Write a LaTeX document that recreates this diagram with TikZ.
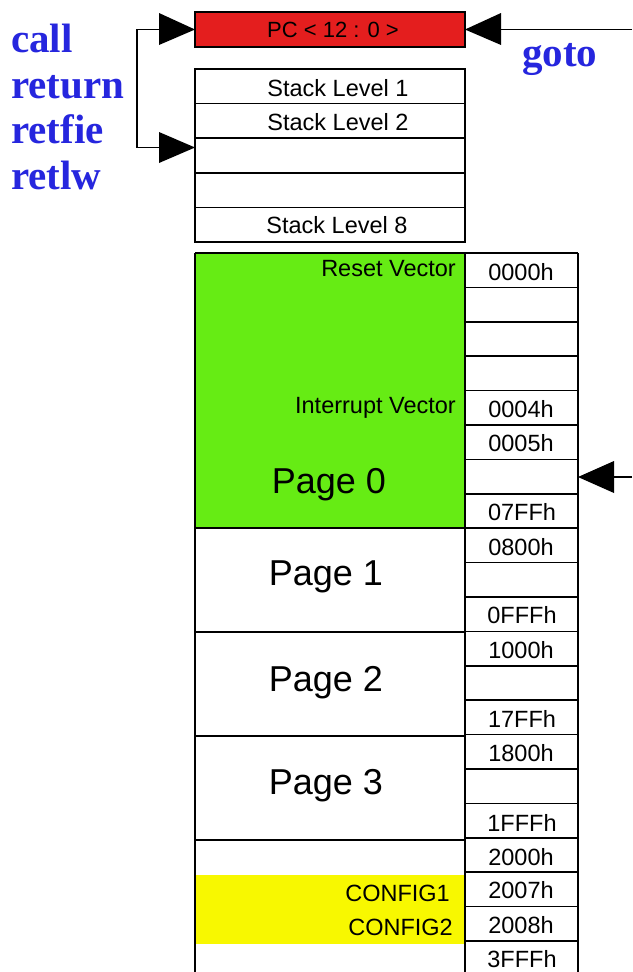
\documentclass[tikz,border=0pt]{standalone}
\usepackage{fontspec}
\setmainfont{Liberation Sans}
\newfontfamily\opfont{Liberation Serif}
\definecolor{pcred}{RGB}{228,30,30}
\definecolor{pagegreen}{RGB}{102,236,20}
\definecolor{cfgyellow}{RGB}{248,248,0}
\definecolor{opblue}{RGB}{38,38,222}
\tikzset{
  cell/.style={draw=black, line width=1.7pt},
  op/.style={text=opblue, font=\opfont\bfseries\fontsize{41}{41}\selectfont, anchor=base west, inner sep=0pt},
  lbl/.style={font=\fontsize{23.5}{23.5}\selectfont, inner sep=0pt},
  pclbl/.style={font=\fontsize{22}{22}\selectfont, inner sep=0pt},
  addr/.style={font=\fontsize{23.5}{23.5}\selectfont, inner sep=0pt},
  pagelbl/.style={font=\fontsize{36}{36}\selectfont, inner sep=0pt},
  wire/.style={draw=black, line width=1.7pt},
  head/.style={fill=black, draw=none}
}
\begin{document}
\begin{tikzpicture}[x=1pt, y=-1pt]
\useasboundingbox (0,0) rectangle (632,972);
\fill[white] (0,0) rectangle (632,972);

% program counter
\path[cell, fill=pcred] (195,12) rectangle (465,47);
\node[pclbl] (pc) at (333,30) {PC < 12 : 0 >};
\coordinate (pcW) at (195,29.5);
\coordinate (pcE) at (465,29.5);

% hardware stack
\foreach \y in {69,103.6,138.2,172.8,207.4}{
  \path[cell] (195,\y) rectangle (465,\y+34.6);
}
\node[lbl] (s1) at (338,88) {Stack Level 1};
\node[lbl] (s2) at (338,122) {Stack Level 2};
\node[lbl] (s8) at (337,225) {Stack Level 8};
\coordinate (stk3) at (195,147.5);

% opcode labels
\node[op] (call) at (11,52) {call};
\node[op] (ret) at (11,98) {return};
\node[op] (retfie) at (11,143.5) {retfie};
\node[op] (retlw) at (11,189.5) {retlw};
\node[op] (goto) at (522,66) {goto};

% call/return path
\coordinate (lt) at (137,29.5);
\coordinate (lb) at (137,147.5);
\draw[wire] (160,29.5) -- (lt) -- (lb) -- (160,147.5);
\fill[head] (pcW) -- (159,13) -- (159,45) -- cycle;
\fill[head] (stk3) -- (159,132) -- (159,163) -- cycle;

% goto path
\coordinate (gr) at (632,29.5);
\draw[wire] (gr) -- (500,29.5);
\fill[head] (pcE) -- (501,13) -- (501,45) -- cycle;

% program memory pages
\fill[pagegreen] (195,253) rectangle (465,528);
\fill[cfgyellow] (195,874.5) rectangle (465,943.5);
\draw[wire] (195,253) -- (465,253);
\foreach \y in {528,632,736,840}{ \draw[wire] (195,\y) -- (465,\y); }
\draw[wire] (195,253) -- (195,973);
\draw[wire] (465,253) -- (465,973);

% address column
\foreach \i in {0,...,20}{
  \draw[wire] (465,253+34.4*\i) -- (578,253+34.4*\i);
}
\draw[wire] (578,253) -- (578,973);

\node[addr] (a0) at (521,272) {0000h};
\node[addr] (a4) at (521,409) {0004h};
\node[addr] (a5) at (521,443.5) {0005h};
\node[addr] (a7) at (522,512.5) {07FFh};
\node[addr] (a8) at (521,547) {0800h};
\node[addr] (a9) at (522,615.5) {0FFFh};
\node[addr] (a10) at (521,650) {1000h};
\node[addr] (a11) at (522,719) {17FFh};
\node[addr] (a12) at (521,753.5) {1800h};
\node[addr] (a13) at (522,822.5) {1FFFh};
\node[addr] (a14) at (521,857) {2000h};
\node[addr] (a15) at (521,890.5) {2007h};
\node[addr] (a16) at (521,925.5) {2008h};
\node[addr] (a17) at (522,959) {3FFFh};

\node[lbl, anchor=east] (rv) at (456,269) {Reset Vector};
\node[lbl, anchor=east] (iv) at (456,408) {Interrupt Vector};
\node[lbl, anchor=east] (c1) at (450,893) {CONFIG1};
\node[lbl, anchor=east] (c2) at (453,927) {CONFIG2};

\node[pagelbl] (p0) at (329,485) {Page 0};
\node[pagelbl] (p1) at (326,577) {Page 1};
\node[pagelbl] (p2) at (326,683) {Page 2};
\node[pagelbl] (p3) at (326,786) {Page 3};

% jump target arrow
\coordinate (jt) at (578,477);
\coordinate (jr) at (632,477);
\draw[wire] (jr) -- (613,477);
\fill[head] (jt) -- (614,461) -- (614,493) -- cycle;
\end{tikzpicture}
\end{document}
